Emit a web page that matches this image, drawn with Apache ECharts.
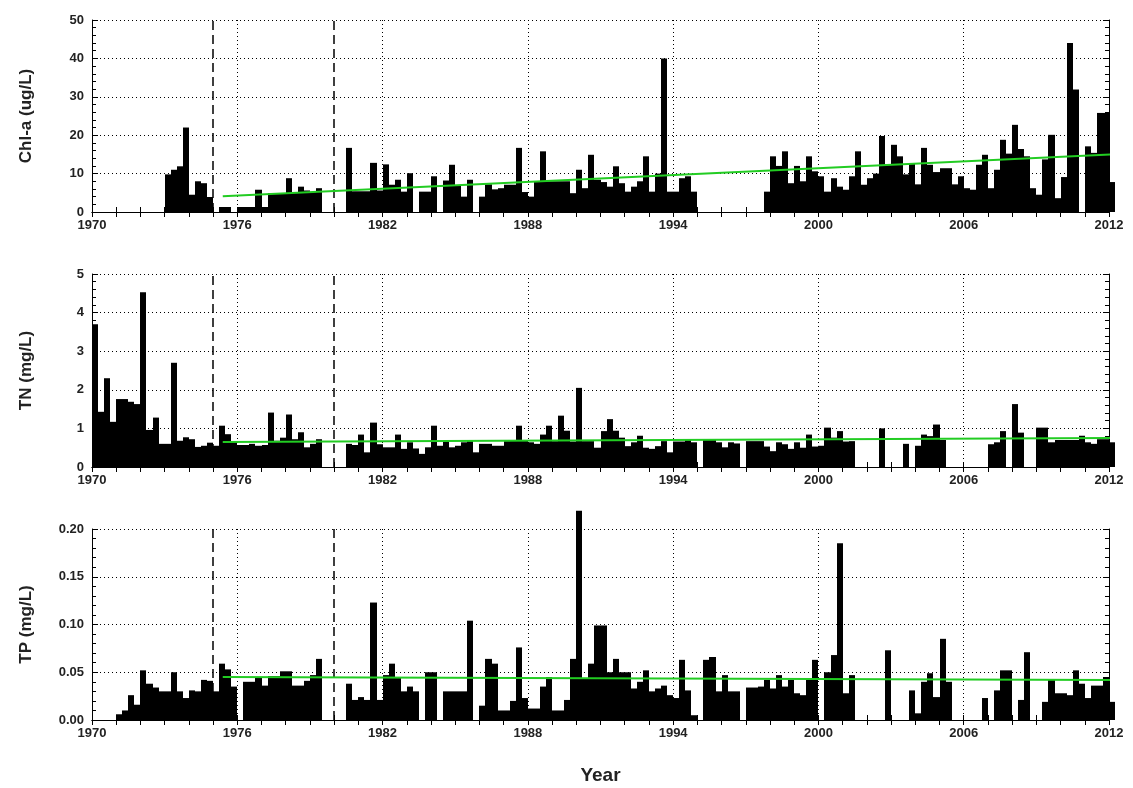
<!DOCTYPE html>
<html>
<head>
<meta charset="utf-8">
<script src="https://cdn.jsdelivr.net/npm/echarts@6/dist/echarts.min.js"></script>
<style>
  html, body { margin: 0; padding: 0; background: #fff; }
  #chart { width: 1133px; height: 788px; }
</style>
</head>
<body>
<div id="chart"></div>
<script>
const startYear = 1970
const endYear = 2012
const breakYears = [1975, 1980]
const panelNames = ['Chl-a (ug/L)', 'TN (mg/L)', 'TP (mg/L)']
const yMax = [50, 5, 0.2]
const yStep = [10, 1, 0.05]

// quarterly values from 1970 Q1 (4 per year), null = no sample
const chla = [
  null, null, null, null,   null, null, null, null,   // 1970-71
  null, null, null, null,   9.8, 11, 11.9, 22,        // 1972-73
  4.5, 8, 7.5, 3.9,         null, 1.3, 1.3, null,     // 1974-75
  1.3, 1.3, 1.3, 5.8,       1.3, 4.9, 4.9, 4.9,       // 1976-77
  8.8, 5, 6.6, 5.6,         5.2, 6.2, null, null,     // 1978-79
  null, null, 16.7, 5.4,    5.4, 5.4, 12.8, 5.6,      // 1980-81
  12.4, 7.1, 8.4, 5.3,      10.1, null, 5.3, 5.3,     // 1982-83
  9.3, null, 8.2, 12.3,     6.9, 4, 8.4, null,        // 1984-85
  4, 7.2, 5.9, 6.2,         7.1, 7.1, 16.7, 5.2,      // 1986-87
  4, 7.8, 15.8, 8,          8, 8, 8, 4.9,             // 1988-89
  11, 6.2, 14.9, 8.4,       7.8, 6.6, 11.9, 7.5,      // 1990-91
  5.3, 6.6, 8, 14.5,        5.3, 10, 40, 5.3,         // 1992-93
  5.3, 8.8, 9.3, 5.3,       null, null, null, null,   // 1994-95
  null, null, null, null,   null, null, null, 5.3,    // 1996-97
  14.5, 12, 15.8, 7.5,      12, 8, 14.5, 10.6,        // 1998-99
  9.3, 5.3, 8.8, 6.6,       5.8, 9.3, 15.8, 7.1,      // 2000-01
  8.8, 10, 19.8, 12.4,      17.5, 14.5, 9.8, 12.6,    // 2002-03
  7.2, 16.7, 12.3, 10.4,    11.4, 11.4, 7.2, 9.3,     // 2004-05
  6.2, 5.8, 12.3, 14.9,     6.2, 11, 18.8, 15.2,      // 2006-07
  22.7, 16.4, 14.5, 6.2,    4.5, 13.7, 20.1, 3.6,     // 2008-09
  9.1, 44, 31.9, null,      17.1, 15.4, 25.8, 25.8,   // 2010-11
  7.8                                                 // 2012
]
const tn = [
  3.7, 1.43, 2.3, 1.17,     1.76, 1.76, 1.69, 1.63,   // 1970-71
  4.53, 0.96, 1.28, 0.6,    0.6, 2.7, 0.68, 0.77,     // 1972-73
  0.72, 0.52, 0.55, 0.63,   0.55, 1.07, 0.85, 0.66,   // 1974-75
  0.57, 0.57, 0.6, 0.55,    0.57, 1.41, 0.68, 0.76,   // 1976-77
  1.36, 0.72, 0.9, 0.51,    0.6, 0.72, null, null,    // 1978-79
  null, null, 0.6, 0.57,    0.84, 0.38, 1.15, 0.59,   // 1980-81
  0.51, 0.51, 0.84, 0.47,   0.64, 0.48, 0.34, 0.51,   // 1982-83
  1.07, 0.55, 0.67, 0.51,   0.55, 0.64, 0.68, 0.38,   // 1984-85
  0.6, 0.6, 0.55, 0.55,     0.67, 0.7, 1.07, 0.68,    // 1986-87
  0.64, 0.6, 0.84, 1.07,    0.67, 1.33, 0.94, 0.66,   // 1988-89
  2.05, 0.67, 0.67, 0.5,    0.93, 1.24, 0.94, 0.76,   // 1990-91
  0.54, 0.64, 0.81, 0.5,    0.47, 0.54, 0.67, 0.38,   // 1992-93
  0.66, 0.66, 0.7, 0.64,    null, 0.7, 0.7, 0.64,     // 1994-95
  0.51, 0.64, 0.61, null,   0.67, 0.67, 0.67, 0.53,   // 1996-97
  0.41, 0.64, 0.59, 0.47,   0.64, 0.5, 0.84, 0.53,    // 1998-99
  0.55, 1.02, 0.76, 0.93,   0.66, 0.67, null, null,   // 2000-01
  null, null, 1.0, null,    null, null, 0.6, null,    // 2002-03
  0.55, 0.84, 0.8, 1.1,     0.7, null, null, null,    // 2004-05
  null, null, null, null,   0.59, 0.64, 0.93, null,   // 2006-07
  1.63, 0.89, null, null,   1.02, 1.02, 0.64, 0.7,    // 2008-09
  0.7, 0.7, 0.7, 0.81,      0.64, 0.6, 0.72, 0.72,    // 2010-11
  0.64                                                // 2012
]
const tp = [
  null, null, null, null,          0.006, 0.010, 0.026, 0.016,   // 1970-71
  0.052, 0.038, 0.034, 0.030,      0.030, 0.050, 0.030, 0.023,   // 1972-73
  0.031, 0.030, 0.042, 0.041,      0.030, 0.059, 0.053, 0.035,   // 1974-75
  null, 0.040, 0.040, 0.044,       0.036, 0.046, 0.046, 0.051,   // 1976-77
  0.051, 0.036, 0.036, 0.041,      0.047, 0.064, null, null,     // 1978-79
  null, null, 0.038, 0.021,        0.024, 0.021, 0.123, 0.021,   // 1980-81
  0.047, 0.059, 0.045, 0.030,      0.035, 0.030, null, 0.050,    // 1982-83
  0.050, null, 0.030, 0.030,       0.030, 0.030, 0.104, null,    // 1984-85
  0.015, 0.064, 0.059, 0.010,      0.010, 0.020, 0.076, 0.023,   // 1986-87
  0.012, 0.012, 0.035, 0.045,      0.010, 0.010, 0.021, 0.064,   // 1988-89
  0.219, 0.044, 0.059, 0.099,      0.099, 0.050, 0.064, 0.050,   // 1990-91
  0.050, 0.033, 0.040, 0.052,      0.030, 0.033, 0.036, 0.026,   // 1992-93
  0.023, 0.063, 0.031, 0.005,      null, 0.063, 0.066, 0.030,    // 1994-95
  0.047, 0.030, 0.030, null,       0.034, 0.034, 0.035, 0.042,   // 1996-97
  0.033, 0.047, 0.035, 0.042,      0.028, 0.026, 0.042, 0.063,   // 1998-99
  null, 0.050, 0.068, 0.185,       0.028, 0.047, null, null,     // 2000-01
  null, null, null, 0.073,         null, null, null, 0.031,      // 2002-03
  0.007, 0.040, 0.049, 0.024,      0.085, 0.040, null, null,     // 2004-05
  null, null, null, 0.023,         null, 0.031, 0.052, 0.052,    // 2006-07
  null, 0.021, 0.071, null,        null, 0.019, 0.042, 0.028,    // 2008-09
  0.028, 0.026, 0.052, 0.038,      0.023, 0.036, 0.036, 0.045,   // 2010-11
  0.019                                                          // 2012
]

// linear trend end points [year, value]
const chlaTrend = [[1975.4, 4.1], [2012.1, 15.0]]
const tnTrend = [[1975.4, 0.65], [2012.1, 0.75]]
const tpTrend = [[1975.4, 0.045], [2012.1, 0.042]]

const panelValues = [chla, tn, tp]
const panelTrends = [chlaTrend, tnTrend, tpTrend]

const gridTops = [20, 274, 529]
const gridHeights = [192, 193, 191]

const chart = echarts.init(document.getElementById('chart'))

const font = { fontFamily: 'Liberation Sans', fontWeight: 'bold', color: '#222' }
const black = { color: '#000', width: 1 }
const dotted = { show: true, lineStyle: { color: '#000', width: 1, type: [1, 3] } }

const toPoints = values => {
  const pts = []
  values.forEach((v, i) => {
    if (v != null) pts.push([startYear + i / 4, v])
  })
  return pts
}

const renderBar = (params, api) => {
  const base = api.coord([api.value(0), 0])
  const top = api.coord([api.value(0) + 0.25, api.value(1)])
  const x0 = Math.round(base[0])
  const x1 = Math.round(top[0])
  return {
    type: 'rect',
    shape: { x: x0, y: top[1], width: x1 - x0, height: base[1] - top[1] },
    style: { fill: '#000' },
  }
}

const grid = []
const xAxis = []
const yAxis = []
const series = []

panelNames.forEach((name, k) => {
  grid.push({ left: 92, right: 24, top: gridTops[k], height: gridHeights[k] })

  const xCommon = {
    gridIndex: k,
    type: 'value',
    min: startYear,
    max: endYear,
    interval: 6,
    axisLine: { lineStyle: black },
    axisTick: { inside: true, length: 5, lineStyle: black },
    minorTick: { show: true, splitNumber: 6, length: 5, lineStyle: black },
  }
  xAxis.push({
    ...xCommon,
    position: 'bottom',
    axisLabel: { ...font, fontSize: 13, margin: 7, formatter: v => String(v) },
    splitLine: dotted,
    name: k === 2 ? 'Year' : '',
    nameLocation: 'middle',
    nameGap: 46,
    nameTextStyle: { ...font, fontSize: 19 },
  })
  xAxis.push({ ...xCommon, position: 'top', axisLabel: { show: false }, splitLine: { show: false } })

  const yCommon = {
    gridIndex: k,
    type: 'value',
    min: 0,
    max: yMax[k],
    interval: yStep[k],
    axisLine: { show: true, lineStyle: black },
    axisTick: { inside: true, length: 6, lineStyle: black },
    minorTick: { show: true, splitNumber: 5, length: 4, lineStyle: black },
  }
  yAxis.push({
    ...yCommon,
    position: 'left',
    axisLabel: {
      ...font,
      fontSize: 13,
      margin: 8,
      formatter: v => (k === 2 ? v.toFixed(2) : String(v)),
    },
    splitLine: dotted,
    name,
    nameLocation: 'middle',
    nameGap: 57,
    nameTextStyle: { ...font, fontSize: 17 },
  })
  yAxis.push({ ...yCommon, position: 'right', axisLabel: { show: false }, splitLine: { show: false } })

  series.push({
    type: 'line',
    xAxisIndex: 2 * k,
    yAxisIndex: 2 * k,
    data: [],
    z: 1,
    markLine: {
      silent: true,
      symbol: 'none',
      label: { show: false },
      lineStyle: { color: '#000', width: 1.5, type: [9, 5] },
      data: breakYears.map(y => ({ xAxis: y })),
    },
  })
  series.push({
    type: 'custom',
    xAxisIndex: 2 * k,
    yAxisIndex: 2 * k,
    renderItem: renderBar,
    clip: false,
    z: 2,
    data: toPoints(panelValues[k]),
  })
  series.push({
    type: 'line',
    xAxisIndex: 2 * k,
    yAxisIndex: 2 * k,
    data: panelTrends[k],
    symbol: 'none',
    z: 5,
    lineStyle: { color: '#22cc22', width: 2 },
  })
})

chart.setOption({
  animation: false,
  backgroundColor: '#fff',
  grid,
  xAxis,
  yAxis,
  series,
})

window.addEventListener('resize', () => {
  chart.resize()
})
</script>
</body>
</html>
